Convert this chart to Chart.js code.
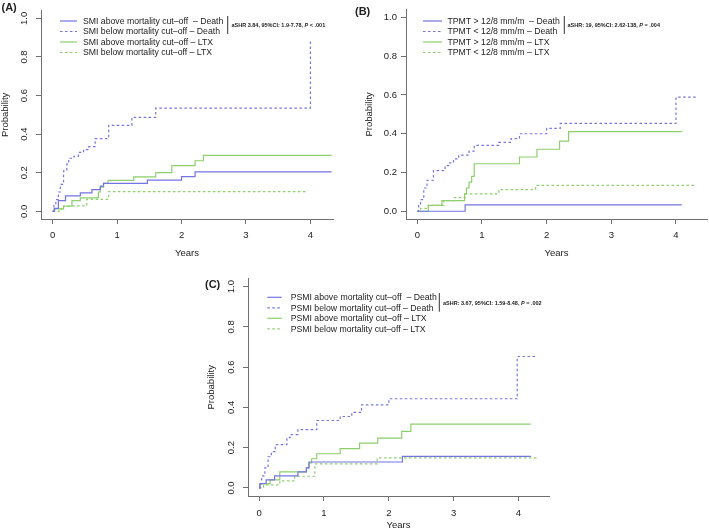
<!DOCTYPE html>
<html>
<head>
<meta charset="utf-8">
<script src="https://cdn.jsdelivr.net/npm/chart.js@4.4.0/dist/chart.umd.min.js"></script>
<style>
  body { margin: 0; background: #fff; }
  canvas { position: absolute; }
</style>
</head>
<body>
<canvas id="chartA" width="355" height="265" style="left:0;top:0"></canvas>
<canvas id="chartB" width="354" height="265" style="left:355px;top:0"></canvas>
<canvas id="chartC" width="360" height="266" style="left:195px;top:265px"></canvas>
<script>
// axis ticks
const yearTicks = [0, 1, 2, 3, 4];
const probTicks = [0, 0.2, 0.4, 0.6, 0.8, 1.0];

// (A) SMI - cumulative incidence at each step
const smiAboveDeathYears = [0, 0.03, 0.09, 0.2, 0.43, 0.61, 0.74, 0.79, 1.47, 2.0, 2.21, 4.33];
const smiAboveDeathProb = [0, 0.015, 0.055, 0.08, 0.095, 0.112, 0.13, 0.145, 0.162, 0.18, 0.204, 0.204];
const smiBelowDeathYears = [0, 0.02, 0.05, 0.09, 0.12, 0.17, 0.22, 0.25, 0.33, 0.4, 0.48, 0.56, 0.66, 0.87, 1.23, 1.6, 4.0];
const smiBelowDeathProb = [0, 0.03, 0.06, 0.1, 0.14, 0.21, 0.245, 0.275, 0.285, 0.305, 0.32, 0.335, 0.377, 0.445, 0.487, 0.535, 0.89];
const smiAboveLtxYears = [0, 0.02, 0.17, 0.3, 0.43, 0.71, 0.74, 0.79, 0.86, 1.26, 1.6, 1.85, 2.21, 2.34, 4.33];
const smiAboveLtxProb = [0, 0.013, 0.026, 0.055, 0.07, 0.1, 0.125, 0.145, 0.16, 0.178, 0.2, 0.237, 0.262, 0.29, 0.29];
const smiBelowLtxYears = [0, 0.1, 0.17, 0.53, 0.87, 3.96];
const smiBelowLtxProb = [0, 0.013, 0.028, 0.062, 0.102, 0.102];
const smiLabels = [
  "SMI above mortality cut\u2013off  \u2013 Death",
  "SMI below mortality cut\u2013off \u2013 Death",
  "SMI above mortality cut\u2013off \u2013 LTX",
  "SMI below mortality cut\u2013off \u2013 LTX"
];
const smiNote = ["aSHR 3.84, 95%CI: 1.9-7.78, ", "P", " < .001"];

// (B) TPMT
const tpmtAboveDeathYears = [0, 0.74, 4.09];
const tpmtAboveDeathProb = [0, 0.033, 0.033];
const tpmtBelowDeathYears = [0, 0.02, 0.05, 0.1, 0.15, 0.25, 0.43, 0.5, 0.56, 0.64, 0.8, 0.88, 1.26, 1.45, 1.58, 2.0, 2.21, 4.0, 4.32];
const tpmtBelowDeathProb = [0, 0.03, 0.06, 0.12, 0.16, 0.21, 0.235, 0.25, 0.27, 0.29, 0.31, 0.34, 0.355, 0.375, 0.4, 0.428, 0.453, 0.589, 0.589];
const tpmtAboveLtxYears = [0, 0.17, 0.38, 0.73, 0.76, 0.8, 0.84, 0.88, 1.58, 1.85, 2.2, 2.34, 4.09];
const tpmtAboveLtxProb = [0, 0.03, 0.055, 0.09, 0.12, 0.15, 0.18, 0.245, 0.28, 0.32, 0.362, 0.411, 0.411];
const tpmtBelowLtxYears = [0, 0.05, 0.17, 0.41, 0.56, 0.74, 1.26, 1.83, 4.32];
const tpmtBelowLtxProb = [0, 0.015, 0.03, 0.055, 0.07, 0.09, 0.112, 0.133, 0.133];
const tpmtLabels = [
  "TPMT > 12/8 mm/m  \u2013 Death",
  "TPMT < 12/8 mm/m \u2013 Death",
  "TPMT > 12/8 mm/m \u2013 LTX",
  "TPMT < 12/8 mm/m \u2013 LTX"
];
const tpmtNote = ["aSHR: 19, 95%CI: 2.62-138, ", "P", " = .004"];

// (C) PSMI
const psmiAboveDeathYears = [0, 0.015, 0.11, 0.24, 0.6, 0.73, 0.77, 2.21, 4.19];
const psmiAboveDeathProb = [0, 0.022, 0.04, 0.06, 0.08, 0.1, 0.129, 0.157, 0.157];
const psmiBelowDeathYears = [0, 0.01, 0.04, 0.09, 0.14, 0.19, 0.25, 0.43, 0.48, 0.6, 0.89, 1.25, 1.43, 1.58, 2.0, 3.98, 4.28];
const psmiBelowDeathProb = [0, 0.02, 0.06, 0.1, 0.155, 0.18, 0.215, 0.25, 0.265, 0.29, 0.335, 0.355, 0.375, 0.413, 0.443, 0.653, 0.653];
const psmiAboveLtxYears = [0, 0.01, 0.17, 0.32, 0.73, 0.77, 0.81, 0.89, 1.25, 1.55, 1.83, 2.2, 2.34, 4.19];
const psmiAboveLtxProb = [0, 0.02, 0.04, 0.08, 0.1, 0.125, 0.145, 0.17, 0.195, 0.223, 0.248, 0.281, 0.317, 0.317];
const psmiBelowLtxYears = [0, 0.07, 0.32, 0.55, 0.86, 1.82, 4.3];
const psmiBelowLtxProb = [0, 0.015, 0.035, 0.058, 0.12, 0.149, 0.149];
const psmiLabels = [
  "PSMI above mortality cut\u2013off  \u2013 Death",
  "PSMI below mortality cut\u2013off \u2013 Death",
  "PSMI above mortality cut\u2013off \u2013 LTX",
  "PSMI below mortality cut\u2013off \u2013 LTX"
];
const psmiNote = ["aSHR: 3.67, 95%CI: 1.59-8.48, ", "P", " = .002"];

const blue = "#7474e2";
const green = "#8ccf6c";
const axisColor = "#707070";
const textColor = "#222";

Chart.defaults.font.family = '"Liberation Sans", Arial, sans-serif';
Chart.defaults.color = textColor;

// one step curve
function stepLine(label, years, probs, color, dashed) {
  return {
    label: label,
    data: years.map((x, i) => ({ x: x, y: probs[i] })),
    borderColor: color,
    borderWidth: 1.2,
    borderDash: dashed ? [2.5, 2.5] : [],
    stepped: "before",
    pointRadius: 0,
    fill: false
  };
}

// legend, bracket with the aSHR note, and panel letter
const panelText = {
  id: "panelText",
  afterDraw(chart, args, o) {
    const ctx = chart.ctx;
    ctx.save();
    ctx.fillStyle = textColor;
    ctx.textBaseline = "middle";
    ctx.font = 'bold 11px "Liberation Sans", Arial, sans-serif';
    ctx.fillText(o.tag, o.tagX, o.tagY);

    ctx.font = '8.7px "Liberation Sans", Arial, sans-serif';
    chart.data.datasets.forEach((ds, i) => {
      const y = o.legendY + i * 10.5;
      ctx.strokeStyle = ds.borderColor;
      ctx.lineWidth = ds.borderWidth;
      ctx.setLineDash(ds.borderDash);
      ctx.beginPath();
      ctx.moveTo(o.lineX1, y);
      ctx.lineTo(o.lineX2, y);
      ctx.stroke();
      ctx.fillText(ds.label, o.textX, y + 0.5);
    });

    ctx.setLineDash([]);
    ctx.strokeStyle = "#333";
    ctx.lineWidth = 1;
    ctx.beginPath();
    ctx.moveTo(o.barX, o.barY1);
    ctx.lineTo(o.barX, o.barY2);
    ctx.stroke();

    let x = o.noteX;
    o.note.forEach((part, i) => {
      ctx.font = (i === 1 ? "italic " : "") + 'bold 5.5px "Liberation Sans", Arial, sans-serif';
      ctx.fillText(part, x, o.noteY);
      x += ctx.measureText(part).width;
    });
    ctx.restore();
  }
};

function makeChart(id, datasets, p) {
  return new Chart(document.getElementById(id), {
    type: "line",
    data: { datasets: datasets },
    plugins: [panelText],
    options: {
      responsive: false,
      animation: false,
      layout: { padding: p.padding },
      plugins: {
        legend: { display: false },
        tooltip: { enabled: false },
        panelText: p.text
      },
      scales: {
        x: {
          type: "linear",
          min: p.xMin,
          max: p.xMax,
          afterBuildTicks: (s) => { s.ticks = yearTicks.map((v) => ({ value: v })); },
          afterFit: (s) => { s.height = p.xHeight; },
          grid: { drawOnChartArea: false, tickLength: 5, color: axisColor },
          border: { color: axisColor },
          ticks: { font: { size: 9.5 }, padding: p.xPad, maxRotation: 0, callback: (v) => String(v) },
          title: { display: true, text: "Years", font: { size: 9.5 }, padding: { top: 0, bottom: p.xTitlePad } }
        },
        y: {
          type: "linear",
          min: -0.04,
          max: 1.04,
          afterBuildTicks: (s) => { s.ticks = probTicks.map((v) => ({ value: v })); },
          afterFit: (s) => { s.width = p.yWidth; },
          grid: { drawOnChartArea: false, tickLength: 5, color: axisColor },
          border: { color: axisColor },
          ticks: {
            font: { size: 9.5 },
            padding: p.yPad,
            minRotation: p.yRot,
            maxRotation: p.yRot,
            crossAlign: p.yRot ? "center" : "near",
            callback: (v) => v.toFixed(1)
          },
          title: { display: true, text: "Probability", font: { size: 9.5 }, padding: { top: p.yTitlePad, bottom: 0 } }
        }
      }
    }
  });
}

makeChart("chartA", [
  stepLine(smiLabels[0], smiAboveDeathYears, smiAboveDeathProb, blue, false),
  stepLine(smiLabels[1], smiBelowDeathYears, smiBelowDeathProb, blue, true),
  stepLine(smiLabels[2], smiAboveLtxYears, smiAboveLtxProb, green, false),
  stepLine(smiLabels[3], smiBelowLtxYears, smiBelowLtxProb, green, true)
], {
  padding: { left: 0, right: 22, top: 2, bottom: 2 },
  xMin: -0.18, xMax: 4.35, xHeight: 44, xPad: 6, xTitlePad: 4,
  yWidth: 41, yPad: 5, yRot: 90, yTitlePad: 0,
  text: {
    tag: "(A)", tagX: 1.5, tagY: 8,
    lineX1: 60, lineX2: 77, textX: 83, legendY: 21,
    barX: 227.7, barY1: 16, barY2: 34,
    note: smiNote, noteX: 231.5, noteY: 25.5
  }
});

makeChart("chartB", [
  stepLine(tpmtLabels[0], tpmtAboveDeathYears, tpmtAboveDeathProb, blue, false),
  stepLine(tpmtLabels[1], tpmtBelowDeathYears, tpmtBelowDeathProb, blue, true),
  stepLine(tpmtLabels[2], tpmtAboveLtxYears, tpmtAboveLtxProb, green, false),
  stepLine(tpmtLabels[3], tpmtBelowLtxYears, tpmtBelowLtxProb, green, true)
], {
  padding: { left: 0, right: 2, top: 2, bottom: 2 },
  xMin: -0.175, xMax: 4.48, xHeight: 44, xPad: 6, xTitlePad: 4,
  yWidth: 51, yPad: 4, yRot: 0, yTitlePad: 9,
  text: {
    tag: "(B)", tagX: 0, tagY: 12,
    lineX1: 68, lineX2: 87, textX: 92.5, legendY: 21,
    barX: 209.3, barY1: 16, barY2: 34,
    note: tpmtNote, noteX: 212.5, noteY: 25.5
  }
});

makeChart("chartC", [
  stepLine(psmiLabels[0], psmiAboveDeathYears, psmiAboveDeathProb, blue, false),
  stepLine(psmiLabels[1], psmiBelowDeathYears, psmiBelowDeathProb, blue, true),
  stepLine(psmiLabels[2], psmiAboveLtxYears, psmiAboveLtxProb, green, false),
  stepLine(psmiLabels[3], psmiBelowLtxYears, psmiBelowLtxProb, green, true)
], {
  padding: { left: 0, right: 6, top: 13.6, bottom: 0 },
  xMin: -0.17, xMax: 4.47, xHeight: 35, xPad: 7, xTitlePad: 0,
  yWidth: 53, yPad: 5, yRot: 90, yTitlePad: 11,
  text: {
    tag: "(C)", tagX: 10, tagY: 20,
    lineX1: 72.3, lineX2: 86.7, textX: 95.7, legendY: 32.3,
    barX: 244.3, barY1: 28, barY2: 46.7,
    note: psmiNote, noteX: 248, noteY: 38
  }
});
</script>
</body>
</html>
